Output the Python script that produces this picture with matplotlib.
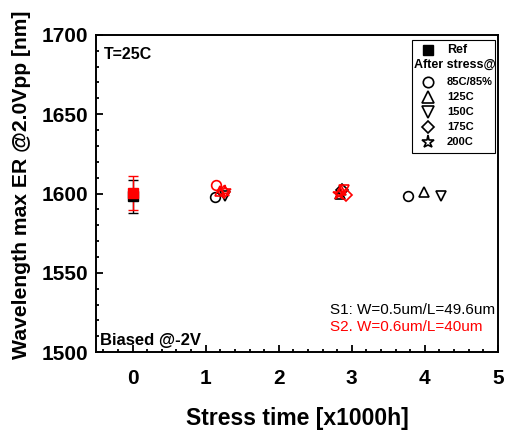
import matplotlib
matplotlib.use("Agg")
import matplotlib.pyplot as plt
from matplotlib.patches import Rectangle
from matplotlib.ticker import MultipleLocator

plt.rcParams['font.family'] = ['Liberation Sans', 'DejaVu Sans']

# reference (unstressed) devices, mean +/- spread
ref_x = [0, 0]
ref_y = [1598.2, 1600.3]
ref_err = [10.5, 11.0]
ref_col = ['black', 'red']

# after stress, S1 (black) and S2 (red): (time, wavelength)
s1 = {
    '85C/85%': ([1.13, 3.77], [1598.0, 1598.2]),
    '125C': ([2.84, 3.99], [1600.0, 1601.0]),
    '150C': ([1.27, 4.22], [1598.5, 1598.5]),
    '175C': ([2.86], [1602.0]),
}
s2 = {
    '85C/85%': ([1.14], [1605.5]),
    '125C': ([1.20, 2.85], [1601.5, 1602.0]),
    '150C': ([2.89], [1602.5]),
    '175C': ([1.25, 2.92], [1601.0, 1598.8]),
    '200C': ([1.27, 2.83], [1601.5, 1600.0]),
}
conditions = ['85C/85%', '125C', '150C', '175C', '200C']
markers = {'85C/85%': 'o', '125C': '^', '150C': 'v', '175C': 'D', '200C': '*'}
msizes = {'85C/85%': 7, '125C': 7.5, '150C': 7.5, '175C': 6, '200C': 9}

fig = plt.figure(figsize=(5.06, 4.30), dpi=100)
ax = fig.add_axes([0.19, 0.181, 0.794, 0.738])

for x, y, e, c in zip(ref_x, ref_y, ref_err, ref_col):
    ax.errorbar(x, y, yerr=e, fmt='s', color=c, ms=7.5, capsize=3.5,
                elinewidth=1, capthick=1, zorder=3)

for series, col in ((s1, 'black'), (s2, 'red')):
    for key, (xs, ys) in series.items():
        ax.plot(xs, ys, linestyle='none', marker=markers[key], ms=msizes[key],
                mfc='none', mec=col, mew=1.2, zorder=4)

ax.set_xlim(-0.5, 5)
ax.set_ylim(1500, 1700)
ax.xaxis.set_major_locator(MultipleLocator(1))
ax.xaxis.set_minor_locator(MultipleLocator(0.2))
ax.yaxis.set_major_locator(MultipleLocator(50))
ax.yaxis.set_minor_locator(MultipleLocator(10))
ax.tick_params(which='both', direction='in', top=False, right=False, width=1.3)
ax.tick_params(which='major', length=5, labelsize=15)
ax.tick_params(axis='x', which='major', pad=12)
ax.tick_params(axis='y', which='major', pad=6)
ax.tick_params(which='minor', length=2.5)
for lab in ax.get_xticklabels() + ax.get_yticklabels():
    lab.set_fontweight('bold')
for sp in ax.spines.values():
    sp.set_linewidth(1.4)

ax.set_xlabel('Stress time [x1000h]', fontsize=16.5, fontweight='bold', labelpad=14)
ax.set_ylabel('Wavelength max ER @2.0Vpp [nm]', fontsize=15.2, fontweight='bold')
ax.yaxis.set_label_coords(-0.163, 0.527)

ax.text(0.02, 0.962, 'T=25C', transform=ax.transAxes, fontsize=11.5,
        fontweight='bold', va='top', ha='left')
ax.text(0.01, 0.012, 'Biased @-2V', transform=ax.transAxes, fontsize=12,
        fontweight='bold', va='bottom', ha='left')
ax.text(0.582, 0.132, 'S1: W=0.5um/L=49.6um', transform=ax.transAxes,
        fontsize=11, color='black', va='center', ha='left')
ax.text(0.582, 0.079, 'S2. W=0.6um/L=40um', transform=ax.transAxes,
        fontsize=11, color='red', va='center', ha='left')

# legend box, laid out by hand so the header row can span the marker column
box = Rectangle((0.786, 0.628), 0.207, 0.356, transform=ax.transAxes,
                facecolor='white', edgecolor='black', lw=0.8, zorder=5)
ax.add_patch(box)
mx, tx = 0.826, 0.873
row_y = [0.953, 0.905, 0.852, 0.804, 0.756, 0.708, 0.661]
ax.plot([mx], [row_y[0]], marker='s', color='black', ms=7,
        transform=ax.transAxes, zorder=6)
ax.text(tx, row_y[0], 'Ref', transform=ax.transAxes, fontsize=9,
        fontweight='bold', va='center', ha='left', zorder=6)
ax.text(0.791, row_y[1], 'After stress@', transform=ax.transAxes, fontsize=9,
        fontweight='bold', va='center', ha='left', zorder=6)
for key, yy in zip(conditions, row_y[2:]):
    ax.plot([mx], [yy], marker=markers[key], ms=msizes[key] + 0.5, mfc='none',
            mec='black', mew=1.2, transform=ax.transAxes, zorder=6)
    ax.text(tx, yy, key, transform=ax.transAxes, fontsize=8,
            fontweight='bold', va='center', ha='left', zorder=6)

fig.savefig('out.png', dpi=100)
